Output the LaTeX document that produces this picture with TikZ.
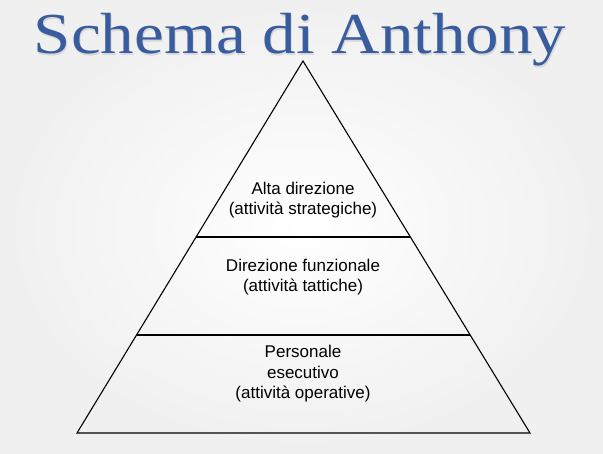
\documentclass[tikz,border=0pt]{standalone}
\usepackage{fontspec}
\usepackage{tikz}
\usetikzlibrary{calc}
\newfontfamily\titlefont{Liberation Serif}
\newfontfamily\labelfont{Liberation Sans}
\definecolor{titleblue}{RGB}{56,92,158}

\begin{document}
\begin{tikzpicture}[x=1pt,y=-1pt,line width=1.1pt,
    livello/.style={align=center,anchor=base,font=\labelfont\fontsize{17}{20.5}\selectfont}]
    \useasboundingbox (0,0) rectangle (603,454);
    \shade[inner color=white,outer color=black!6] (0,0) rectangle (603,454); % background

    \coordinate (T) at (303,61);
    \coordinate (BL) at (77,433);
    \coordinate (BR) at (530,433);
    \coordinate (L1) at ($(T)!0.473!(BL)$);
    \coordinate (R1) at ($(T)!0.473!(BR)$);
    \coordinate (L2) at ($(T)!0.7366!(BL)$);
    \coordinate (R2) at ($(T)!0.7366!(BR)$);

    % title with shadow
    \node[anchor=base,xscale=1.155,text=black,opacity=0.1,font=\titlefont\fontsize{58}{60}\selectfont] (ombra) at (301,55.5) {Schema di Anthony};
    \node[anchor=base,xscale=1.155,text=titleblue,font=\titlefont\fontsize{58}{60}\selectfont] (titolo) at (300,54) {Schema di Anthony};

    \draw (T) -- (BL) -- (BR) -- cycle; % pyramid
    \draw (L1) -- (R1); % upper cut
    \draw (L2) -- (R2); % lower cut

    % base anchor = last line
    \node[livello] (alta) at (303,215) {Alta direzione\\(attività strategiche)};
    \node[livello] (funz) at (303,292) {Direzione funzionale\\(attività tattiche)};
    \node[livello] (pers) at (303,399) {Personale\\esecutivo\\(attività operative)};
\end{tikzpicture}
\end{document}
